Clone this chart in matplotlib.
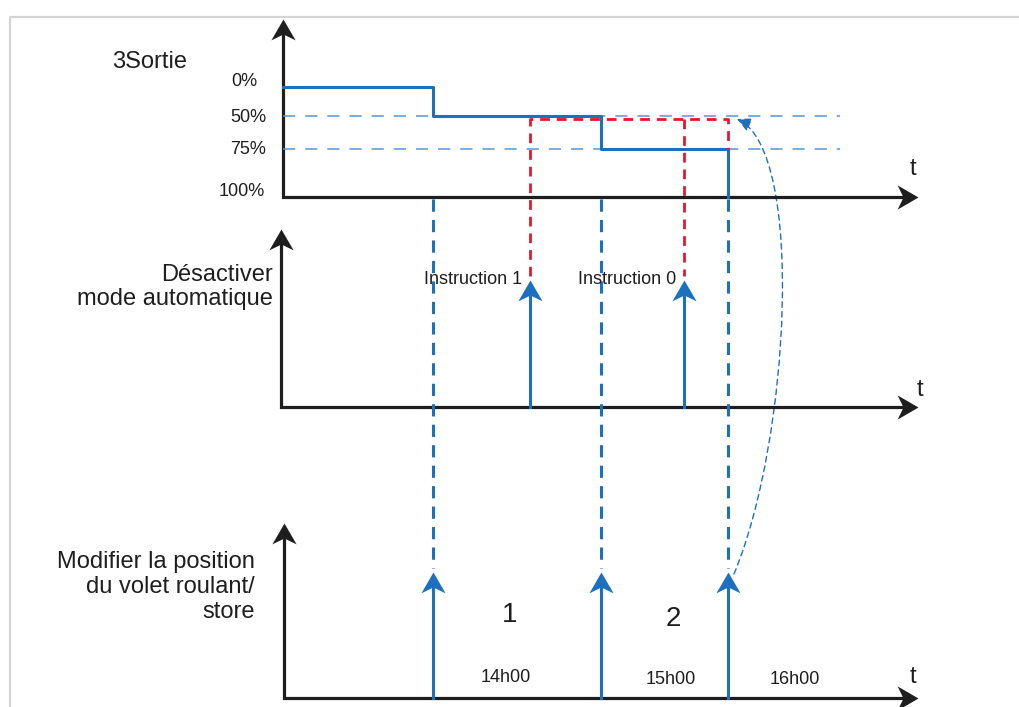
import matplotlib.pyplot as plt
from matplotlib.path import Path
from matplotlib.patches import FancyArrowPatch

plt.rcParams['font.family'] = ['Liberation Sans', 'DejaVu Sans']

BLUE = '#1c70bd'
GUIDE_BLUE = '#5a96d2'
RED = '#e3182d'
BLACK = '#1e1e1e'

# the diagram is laid out in pixel units (x to the right, y downward)
panel_names = ['3Sortie', 'Désactiver\nmode automatique',
               'Modifier la position\ndu volet roulant/\nstore']
axis_x = [283, 281, 284]
axis_top = [19, 229, 523]
axis_base = [197, 407, 698]
axis_end = 918
t_label_x = [913, 920, 913]
t_label_y = [169, 390, 677]

level_labels = ['0%', '50%', '75%', '100%']
level_y = [87, 116, 149, 197]
level_label_x = [257, 266, 266, 265]
level_label_y = [81, 117, 149, 191]

# output position (step line in top panel)
step_x = [283, 433, 433, 601, 601, 728, 728]
step_y = [87, 87, 116, 116, 149, 149, 197]

change_times = [433, 601, 728]      # "modifier la position" events
change_tip = 572
instr_times = [530, 684]            # instructions in middle panel
instr_labels = ['Instruction 1', 'Instruction 0']
instr_tip = 280
red_top = 119

hour_labels = ['14h00', '15h00', '16h00']
hour_x = [506, 671, 795]
hour_y = [678, 680, 680]
period_labels = ['1', '2']
period_x = [510, 673]
period_y = [615, 619]

# stealth arrow heads as markers (tip at the data point)
codes = [Path.MOVETO, Path.LINETO, Path.LINETO, Path.LINETO, Path.CLOSEPOLY]
up_head = Path([(0, 0), (-0.58, -1), (0, -0.72), (0.58, -1), (0, 0)], codes)
right_head = Path([(0, 0), (-1, 0.58), (-0.72, 0), (-1, -0.58), (0, 0)], codes)
HEAD = 30

fig = plt.figure(figsize=(10.19, 7.07), dpi=100)
ax = fig.add_axes([0, 0, 1, 1])
ax.set_xlim(0, 1019)
ax.set_ylim(707, 0)
ax.axis('off')

# frame
ax.plot([10, 10, 1019], [707, 17, 17], color='#d4d4d4', lw=1.6)

# axes of the three panels
for i in range(3):
    x0, top, base = axis_x[i], axis_top[i], axis_base[i]
    ax.plot([x0, x0, axis_end - 12], [top + 12, base, base], color=BLACK, lw=2.3,
            solid_joinstyle='miter')
    ax.plot([x0], [top], marker=up_head, ms=HEAD, color=BLACK, mew=0)
    ax.plot([axis_end], [base], marker=right_head, ms=HEAD, color=BLACK, mew=0)
    ax.text(t_label_x[i], t_label_y[i], 't', fontsize=17, ha='center', va='center',
            color=BLACK)

# panel titles
ax.text(112, 62, panel_names[0], fontsize=17, ha='left', va='center', color=BLACK)
ax.text(273, 287, panel_names[1], fontsize=17, ha='right', va='center',
        multialignment='right', linespacing=1.15, color=BLACK)
ax.text(255, 587, panel_names[2], fontsize=17, ha='right', va='center',
        multialignment='right', linespacing=1.2, color=BLACK)

# level labels and guide lines
for lab, lx, ly in zip(level_labels, level_label_x, level_label_y):
    ax.text(lx, ly, lab, fontsize=13, ha='right', va='center', color=BLACK)
for y in level_y[1:3]:
    ax.plot([283, 840], [y, y], color=GUIDE_BLUE, lw=1.1, ls=(0, (8, 6.5)))

# output step line
ax.plot(step_x, step_y, color=BLUE, lw=2.2)

# red dashed instruction effect
ax.plot([instr_times[0], instr_times[0], change_times[2], change_times[2]],
        [instr_tip - 4, red_top, red_top, step_y[4]], color=RED, lw=2.0,
        ls=(0, (3.5, 2.5)))
ax.plot([instr_times[1], instr_times[1]], [red_top, instr_tip - 4], color=RED, lw=2.0,
        ls=(0, (3.5, 2.5)))

# instruction arrows in the middle panel
for x, lab in zip(instr_times, instr_labels):
    ax.plot([x, x], [axis_base[1], instr_tip + 8], color=BLUE, lw=2.2)
    ax.plot([x], [instr_tip], marker=up_head, ms=HEAD, color=BLUE, mew=0)
    ax.text(x - 8, instr_tip, lab, fontsize=13, ha='right', va='center', color=BLACK)

# position change events: dashed link + arrow in bottom panel
for x in change_times:
    ax.plot([x, x], [axis_base[0] + 2, change_tip - 4], color=BLUE, lw=2.2,
            ls=(0, (4, 2.7)))
    ax.plot([x, x], [axis_base[2], change_tip + 8], color=BLUE, lw=2.2)
    ax.plot([x], [change_tip], marker=up_head, ms=HEAD, color=BLUE, mew=0)

# curved dotted arrow back to 50%
curve = Path([(734, 574), (790, 440), (805, 150), (737, 119)],
             [Path.MOVETO, Path.CURVE4, Path.CURVE4, Path.CURVE4])
ax.add_patch(FancyArrowPatch(path=curve, arrowstyle='-|>,head_length=0.7,head_width=0.35',
                             mutation_scale=12, color=BLUE, lw=1.0, ls=(0, (4, 3))))

for lab, x, y in zip(hour_labels, hour_x, hour_y):
    ax.text(x, y, lab, fontsize=13, ha='center', va='center', color=BLACK)
for lab, x, y in zip(period_labels, period_x, period_y):
    ax.text(x, y, lab, fontsize=20, ha='center', va='center', color=BLACK)

plt.savefig('out.png', dpi=100)
